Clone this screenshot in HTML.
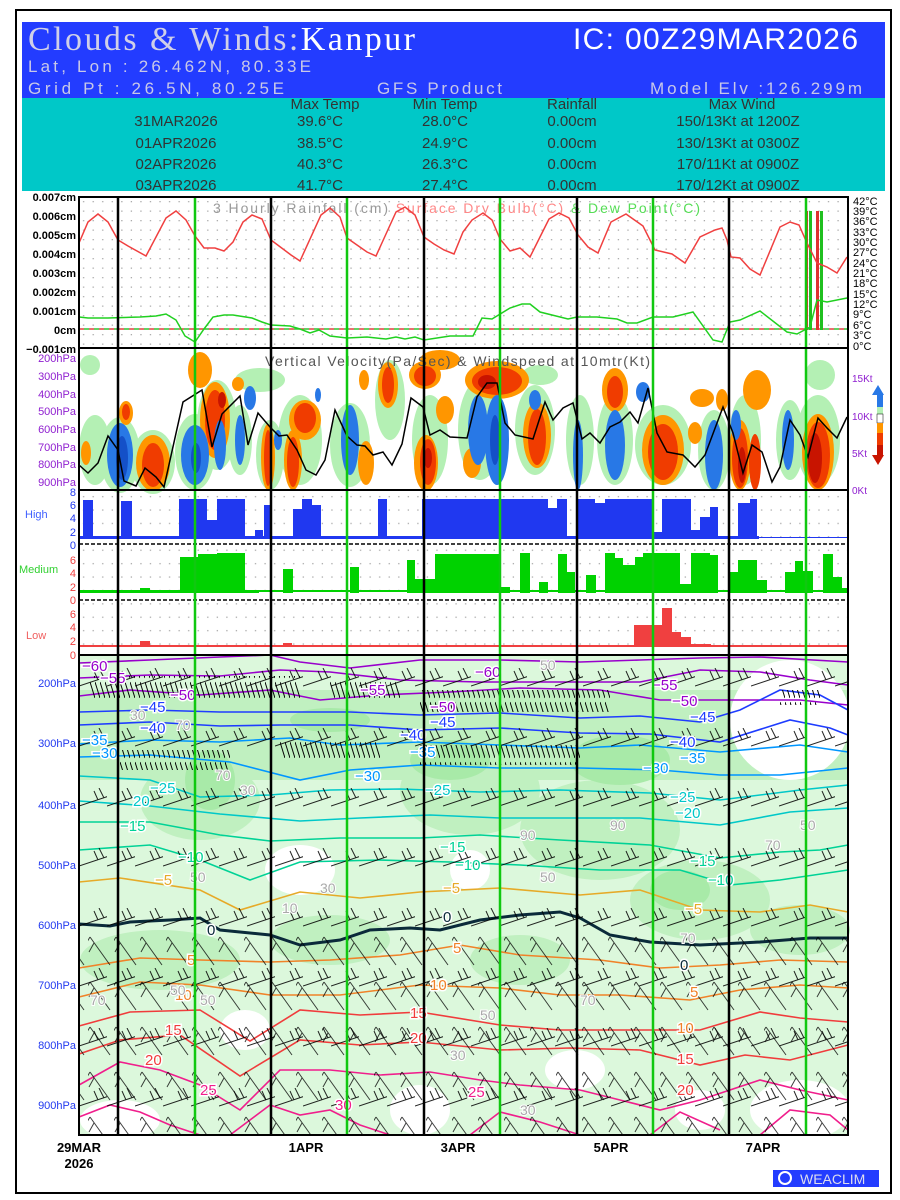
<!DOCTYPE html>
<html><head><meta charset="utf-8"><style>
html,body{margin:0;padding:0;background:#fff}
svg{display:block}
text{font-family:"Liberation Sans",sans-serif}
</style></head><body>
<svg width="900" height="1200" viewBox="0 0 900 1200" xmlns="http://www.w3.org/2000/svg">
<defs>
<pattern id="dots" x="79" y="197" width="9.55" height="9.5" patternUnits="userSpaceOnUse"><rect x="4" y="4" width="1.3" height="1.3" fill="#aaa"/></pattern>
<pattern id="dots2" x="79" y="490" width="9.55" height="13.4" patternUnits="userSpaceOnUse"><rect x="4" y="6" width="1.3" height="1.3" fill="#aaa"/></pattern>
<pattern id="barb1" x="79" y="668" width="28" height="60" patternUnits="userSpaceOnUse"><path d="M0,18 L30,8 M25,10 L20,0 M19,12 L15,3" stroke="#000" stroke-width="1" fill="none"/></pattern>
<pattern id="barb2" x="88" y="935" width="26" height="45" patternUnits="userSpaceOnUse"><path d="M2,2 L22,30 M2,2 L-4,12 M6,8 L1,17" stroke="#000" stroke-width="1" fill="none"/></pattern>
<pattern id="hatch" x="0" y="0" width="5" height="20" patternUnits="userSpaceOnUse"><path d="M0,2 L5,18" stroke="#000" stroke-width="1"/></pattern>
</defs>
<rect x="16" y="10" width="875" height="1183" fill="#fff" stroke="#000" stroke-width="2"/>
<!-- header -->
<rect x="22" y="22" width="863" height="76" fill="#233cff"/>
<rect x="22" y="98" width="863" height="93" fill="#00c8c8"/>
<text x="28" y="50" font-size="34" fill="#d0d0e8" style="font-family:'Liberation Serif',serif" textLength="387">Clouds &amp; Winds:<tspan fill="#fff">Kanpur</tspan></text>
<text x="573" y="49" font-size="30" fill="#fff" textLength="285">IC: 00Z29MAR2026</text>
<text x="28" y="72" font-size="17" fill="#c8c8e8" textLength="283">Lat, Lon : 26.462N, 80.33E</text>
<text x="28" y="94" font-size="17" fill="#c8c8e8" textLength="256">Grid Pt  : 26.5N, 80.25E</text>
<text x="377" y="94" font-size="17" fill="#c8c8e8" textLength="125">GFS Product</text>
<text x="650" y="94" font-size="17" fill="#c8c8e8" textLength="212">Model Elv :126.299m</text>
<g font-size="15" fill="#333" text-anchor="middle">
<text x="325" y="109">Max Temp</text><text x="445" y="109">Min Temp</text><text x="572" y="109">Rainfall</text><text x="742" y="109">Max Wind</text>
<text x="176" y="126">31MAR2026</text><text x="320" y="126">39.6°C</text><text x="445" y="126">28.0°C</text><text x="572" y="126">0.00cm</text><text x="738" y="126">150/13Kt at 1200Z</text>
<text x="176" y="148">01APR2026</text><text x="320" y="148">38.5°C</text><text x="445" y="148">24.9°C</text><text x="572" y="148">0.00cm</text><text x="738" y="148">130/13Kt at 0300Z</text>
<text x="176" y="169">02APR2026</text><text x="320" y="169">40.3°C</text><text x="445" y="169">26.3°C</text><text x="572" y="169">0.00cm</text><text x="738" y="169">170/11Kt at 0900Z</text>
<text x="176" y="190">03APR2026</text><text x="320" y="190">41.7°C</text><text x="445" y="190">27.4°C</text><text x="572" y="190">0.00cm</text><text x="738" y="190">170/12Kt at 0900Z</text>
</g>
<rect x="22" y="191" width="863" height="5" fill="#fff"/>

<!-- top panel -->
<rect x="79" y="197" width="769" height="151" fill="url(#dots)"/>
<text x="213" y="213" font-size="14" fill="#999" textLength="487">3 Hourly Rainfall (cm)  <tspan fill="#f88">Surface Dry Bulb(°C)</tspan>  <tspan fill="#5d5">&amp; Dew Point(°C)</tspan></text>
<line x1="79" y1="329" x2="848" y2="329" stroke="#e04040" stroke-width="1.5" stroke-dasharray="5,5"/>
<line x1="84" y1="329" x2="848" y2="329" stroke="#30c030" stroke-width="1.5" stroke-dasharray="5,5"/>
<rect x="805" y="211" width="3" height="119" fill="#e03030"/><rect x="809" y="211" width="3" height="119" fill="#20c020"/>
<rect x="816" y="211" width="3" height="119" fill="#e03030"/><rect x="820" y="211" width="3" height="119" fill="#20c020"/>
<polyline fill="none" stroke="#f04040" stroke-width="1.5" points="79,243 88,222 98,214 108,222 118,240 128,246 146,256 166,218 176,211 186,220 195,236 204,248 215,248 224,251 233,242 243,222 252,215 262,219 271,240 291,255 300,261 321,215 330,208 340,217 347,238 367,252 376,256 396,212 405,207 415,215 424,237 434,244 444,250 454,254 463,232 472,220 483,213 492,220 500,239 510,251 520,248 530,257 540,237 549,219 559,213 569,218 578,235 588,247 598,253 611,222 626,214 643,226 655,250 672,254 685,263 700,237 715,230 722,228 727,240 731,257 740,258 750,269 760,275 780,227 790,222 799,225 807,243 817,263 827,267 837,273 847,257"/>
<polyline fill="none" stroke="#20d020" stroke-width="1.5" points="79,317 88,318 108,318 140,317 156,316 166,314 176,320 185,336 195,342 204,329 213,317 224,315 233,315 252,318 262,322 271,325 290,326 300,329 310,333 319,330 330,336 347,338 367,337 386,339 396,337 405,339 415,337 424,340 450,336 473,336 482,318 492,319 510,308 522,304 530,304 540,312 568,319 577,317 597,317 617,319 627,323 637,323 653,317 673,317 693,312 713,340 722,342 730,322 740,320 760,311 787,332 797,334 810,327 817,300 827,302 847,298"/>
<g font-size="11" font-weight="bold" text-anchor="end" fill="#000">
<text x="76" y="201">0.007cm</text><text x="76" y="220">0.006cm</text><text x="76" y="239">0.005cm</text><text x="76" y="258">0.004cm</text><text x="76" y="277">0.003cm</text><text x="76" y="296">0.002cm</text><text x="76" y="315">0.001cm</text><text x="76" y="334">0cm</text><text x="76" y="353">−0.001cm</text>
</g>
<g font-size="11" fill="#000">
<text x="853" y="205">42°C</text><text x="853" y="215">39°C</text><text x="853" y="225">36°C</text><text x="853" y="236">33°C</text><text x="853" y="246">30°C</text><text x="853" y="256">27°C</text><text x="853" y="267">24°C</text><text x="853" y="277">21°C</text><text x="853" y="287">18°C</text><text x="853" y="298">15°C</text><text x="853" y="308">12°C</text><text x="853" y="318">9°C</text><text x="853" y="329">6°C</text><text x="853" y="339">3°C</text><text x="853" y="350">0°C</text>
</g>

<!-- VV panel -->
<g fill="#b4f0b4">
<ellipse cx="95" cy="450" rx="16" ry="35"/><ellipse cx="120" cy="455" rx="20" ry="38"/><ellipse cx="153" cy="462" rx="22" ry="32"/><ellipse cx="195" cy="452" rx="20" ry="38"/><ellipse cx="217" cy="425" rx="20" ry="45"/><ellipse cx="240" cy="440" rx="12" ry="35"/><ellipse cx="270" cy="455" rx="14" ry="35"/><ellipse cx="300" cy="440" rx="22" ry="45"/><ellipse cx="350" cy="445" rx="20" ry="42"/><ellipse cx="390" cy="400" rx="15" ry="40"/><ellipse cx="430" cy="440" rx="18" ry="45"/><ellipse cx="480" cy="430" rx="22" ry="50"/><ellipse cx="535" cy="430" rx="20" ry="45"/><ellipse cx="580" cy="440" rx="14" ry="45"/><ellipse cx="615" cy="440" rx="18" ry="45"/><ellipse cx="663" cy="445" rx="28" ry="40"/><ellipse cx="714" cy="450" rx="16" ry="40"/><ellipse cx="745" cy="440" rx="16" ry="45"/><ellipse cx="790" cy="440" rx="14" ry="40"/><ellipse cx="818" cy="440" rx="22" ry="45"/><ellipse cx="260" cy="380" rx="25" ry="12"/><ellipse cx="90" cy="365" rx="10" ry="10"/><ellipse cx="540" cy="375" rx="18" ry="10"/><ellipse cx="820" cy="375" rx="15" ry="15"/>
</g>
<g fill="#ff9600">
<ellipse cx="153" cy="463" rx="17" ry="28"/><ellipse cx="126" cy="413" rx="7" ry="12"/><ellipse cx="86" cy="453" rx="5" ry="12"/><ellipse cx="215" cy="420" rx="15" ry="38"/><ellipse cx="238" cy="384" rx="6" ry="7"/><ellipse cx="268" cy="457" rx="7" ry="33"/><ellipse cx="293" cy="460" rx="9" ry="30"/><ellipse cx="305" cy="420" rx="16" ry="20"/><ellipse cx="364" cy="380" rx="5" ry="10"/><ellipse cx="388" cy="385" rx="10" ry="23"/><ellipse cx="425" cy="375" rx="16" ry="14"/><ellipse cx="366" cy="463" rx="8" ry="22"/><ellipse cx="426" cy="463" rx="12" ry="28"/><ellipse cx="445" cy="410" rx="9" ry="14"/><ellipse cx="497" cy="380" rx="32" ry="19"/><ellipse cx="472" cy="463" rx="9" ry="15"/><ellipse cx="537" cy="435" rx="14" ry="33"/><ellipse cx="615" cy="390" rx="13" ry="22"/><ellipse cx="663" cy="450" rx="21" ry="35"/><ellipse cx="695" cy="433" rx="7" ry="11"/><ellipse cx="702" cy="398" rx="12" ry="9"/><ellipse cx="722" cy="400" rx="6" ry="11"/><ellipse cx="740" cy="455" rx="11" ry="35"/><ellipse cx="757" cy="390" rx="14" ry="20"/><ellipse cx="818" cy="452" rx="16" ry="38"/><ellipse cx="440" cy="360" rx="20" ry="10"/><ellipse cx="200" cy="370" rx="12" ry="18"/>
</g>
<g fill="#f03c00">
<ellipse cx="153" cy="465" rx="11" ry="22"/><ellipse cx="126" cy="412" rx="4" ry="8"/><ellipse cx="215" cy="420" rx="10" ry="30"/><ellipse cx="268" cy="458" rx="4" ry="28"/><ellipse cx="293" cy="462" rx="6" ry="25"/><ellipse cx="305" cy="418" rx="11" ry="15"/><ellipse cx="388" cy="385" rx="6" ry="18"/><ellipse cx="425" cy="376" rx="11" ry="10"/><ellipse cx="428" cy="462" rx="8" ry="23"/><ellipse cx="497" cy="381" rx="25" ry="14"/><ellipse cx="537" cy="437" rx="9" ry="28"/><ellipse cx="615" cy="392" rx="8" ry="16"/><ellipse cx="663" cy="452" rx="15" ry="28"/><ellipse cx="740" cy="458" rx="8" ry="30"/><ellipse cx="755" cy="462" rx="6" ry="28"/><ellipse cx="818" cy="455" rx="12" ry="33"/>
</g>
<g fill="#c81400"><ellipse cx="222" cy="400" rx="4" ry="8"/><ellipse cx="428" cy="458" rx="4" ry="10"/><ellipse cx="487" cy="382" rx="9" ry="7"/><ellipse cx="815" cy="458" rx="7" ry="25"/><ellipse cx="742" cy="465" rx="4" ry="18"/></g>
<g fill="#2878e6">
<ellipse cx="120" cy="455" rx="13" ry="32"/><ellipse cx="195" cy="455" rx="14" ry="30"/><ellipse cx="220" cy="445" rx="6" ry="25"/><ellipse cx="240" cy="440" rx="5" ry="25"/><ellipse cx="250" cy="398" rx="6" ry="12"/><ellipse cx="278" cy="440" rx="4" ry="10"/><ellipse cx="350" cy="440" rx="9" ry="35"/><ellipse cx="478" cy="430" rx="10" ry="35"/><ellipse cx="497" cy="440" rx="12" ry="45"/><ellipse cx="535" cy="400" rx="6" ry="10"/><ellipse cx="578" cy="455" rx="5" ry="35"/><ellipse cx="615" cy="445" rx="10" ry="35"/><ellipse cx="643" cy="392" rx="7" ry="10"/><ellipse cx="714" cy="455" rx="9" ry="35"/><ellipse cx="736" cy="425" rx="5" ry="15"/><ellipse cx="788" cy="440" rx="6" ry="30"/><ellipse cx="318" cy="395" rx="3" ry="7"/>
</g>
<g fill="#1450c8"><ellipse cx="122" cy="458" rx="6" ry="22"/><ellipse cx="196" cy="458" rx="5" ry="15"/><ellipse cx="495" cy="440" rx="5" ry="25"/></g>
<polyline fill="none" stroke="#000" stroke-width="1.5" points="79,465 88,473 98,463 108,436 118,450 124,481 136,486 145,468 156,477 164,487 183,402 202,390 212,447 222,414 240,396 248,445 258,413 270,427 279,436 287,435 297,450 306,470 316,475 325,460 335,410 347,436 357,445 365,446 373,455 383,452 392,465 402,444 411,398 423,407 430,435 440,430 450,437 467,438 477,397 487,383 497,383 505,423 515,435 533,439 545,402 553,420 563,408 573,403 582,439 590,433 600,443 610,427 620,422 630,412 638,423 648,388 657,433 667,452 683,455 695,467 705,455 723,407 733,433 743,473 752,445 762,452 772,482 780,467 790,420 800,435 808,457 818,418 827,428 837,438 847,417"/>
<text x="265" y="366" font-size="14" fill="#555" textLength="385">Vertical Velocity(Pa/Sec) &amp; Windspeed at 10mtr(Kt)</text>
<g font-size="11" fill="#9020d0" text-anchor="end">
<text x="76" y="362">200hPa</text><text x="76" y="380">300hPa</text><text x="76" y="398">400hPa</text><text x="76" y="415">500hPa</text><text x="76" y="433">600hPa</text><text x="76" y="451">700hPa</text><text x="76" y="468">800hPa</text><text x="76" y="486">900hPa</text>
</g>
<g font-size="10" fill="#9020d0"><text x="852" y="382">15Kt</text><text x="852" y="420">10Kt</text><text x="852" y="457">5Kt</text><text x="852" y="494">0Kt</text></g>
<g><path d="M878,385 L884,395 L872,395 Z" fill="#2878e6"/><rect x="877" y="395" width="6" height="12" fill="#2878e6"/><rect x="877" y="407" width="6" height="7" fill="#b4f0b4"/><rect x="877" y="414" width="6" height="9" fill="#fff" stroke="#000" stroke-width="0.5"/><rect x="877" y="423" width="6" height="10" fill="#ff9600"/><rect x="877" y="433" width="6" height="12" fill="#f03c00"/><rect x="877" y="445" width="6" height="10" fill="#c81400"/><path d="M872,455 L884,455 L878,465 Z" fill="#c81400"/></g>

<!-- cloud panels -->
<rect x="79" y="490" width="769" height="165" fill="url(#dots2)"/>
<g fill="#2038f0">
<rect x="79" y="536" width="680" height="3"/><rect x="83" y="500" width="10" height="39"/><rect x="121" y="501" width="11" height="38"/><rect x="179" y="499" width="28" height="40"/><rect x="207" y="520" width="10" height="19"/><rect x="217" y="499" width="28" height="40"/><rect x="255" y="530" width="8" height="9"/><rect x="264" y="505" width="7" height="34"/><rect x="293" y="509" width="9" height="30"/><rect x="302" y="499" width="10" height="40"/><rect x="312" y="505" width="9" height="34"/><rect x="378" y="499" width="9" height="40"/><rect x="422" y="499" width="126" height="40"/><rect x="548" y="508" width="9" height="31"/><rect x="557" y="499" width="10" height="40"/><rect x="577" y="499" width="18" height="40"/><rect x="595" y="503" width="10" height="36"/><rect x="605" y="499" width="47" height="40"/><rect x="652" y="532" width="10" height="7"/><rect x="662" y="499" width="29" height="40"/><rect x="691" y="530" width="9" height="9"/><rect x="700" y="517" width="10" height="22"/><rect x="710" y="507" width="8" height="32"/><rect x="738" y="503" width="12" height="36"/><rect x="750" y="499" width="7" height="40"/><rect x="757" y="537" width="91" height="1"/>
</g>
<g fill="#00d200">
<rect x="79" y="590" width="180" height="3"/><rect x="180" y="557" width="18" height="36"/><rect x="198" y="554" width="19" height="39"/><rect x="217" y="553" width="28" height="40"/><rect x="140" y="588" width="10" height="5"/><rect x="283" y="569" width="10" height="24"/><rect x="350" y="567" width="9" height="26"/><rect x="407" y="560" width="8" height="33"/><rect x="415" y="579" width="20" height="14"/><rect x="435" y="554" width="65" height="39"/><rect x="500" y="587" width="10" height="6"/><rect x="520" y="553" width="10" height="40"/><rect x="539" y="582" width="9" height="11"/><rect x="558" y="554" width="9" height="39"/><rect x="567" y="572" width="8" height="21"/><rect x="586" y="575" width="10" height="18"/><rect x="605" y="553" width="10" height="40"/><rect x="615" y="558" width="8" height="35"/><rect x="623" y="565" width="12" height="28"/><rect x="635" y="557" width="8" height="36"/><rect x="643" y="553" width="37" height="40"/><rect x="680" y="584" width="11" height="9"/><rect x="691" y="553" width="19" height="40"/><rect x="710" y="555" width="8" height="38"/><rect x="730" y="572" width="8" height="21"/><rect x="738" y="560" width="19" height="33"/><rect x="757" y="580" width="10" height="13"/><rect x="785" y="572" width="10" height="21"/><rect x="795" y="561" width="8" height="32"/><rect x="803" y="571" width="10" height="22"/><rect x="823" y="554" width="10" height="39"/><rect x="833" y="577" width="9" height="16"/><rect x="842" y="588" width="6" height="5"/><rect x="245" y="590" width="600" height="2"/>
</g>
<g fill="#f04040">
<rect x="79" y="645" width="769" height="2"/><rect x="140" y="641" width="10" height="6"/><rect x="283" y="643" width="9" height="4"/><rect x="634" y="625" width="9" height="22"/><rect x="643" y="625" width="19" height="22"/><rect x="662" y="608" width="10" height="39"/><rect x="672" y="632" width="9" height="15"/><rect x="681" y="637" width="10" height="10"/><rect x="691" y="644" width="20" height="3"/>
</g>
<line x1="79" y1="544" x2="848" y2="544" stroke="#000" stroke-width="1.5" stroke-dasharray="4,2"/>
<line x1="79" y1="600" x2="848" y2="600" stroke="#000" stroke-width="1.5" stroke-dasharray="4,2"/>
<g font-size="11" text-anchor="end">
<g fill="#2038f0"><text x="76" y="496">8</text><text x="76" y="509">6</text><text x="76" y="522">4</text><text x="76" y="536">2</text><text x="76" y="549">0</text></g>
<g fill="#f04040"><text x="76" y="564">6</text><text x="76" y="577">4</text><text x="76" y="591">2</text><text x="76" y="604">0</text><text x="76" y="618">6</text><text x="76" y="631">4</text><text x="76" y="645">2</text><text x="76" y="659">0</text></g>
</g>
<text x="25" y="518" font-size="11" fill="#4060ff">High</text>
<text x="19" y="573" font-size="11" fill="#30d030">Medium</text>
<text x="26" y="639" font-size="11" fill="#f06060">Low</text>

<!-- main panel -->
<rect x="79" y="655" width="769" height="480" fill="#dcf8dc"/>
<g fill="#c0f0c0">
<rect x="79" y="690" width="769" height="90"/><ellipse cx="200" cy="800" rx="60" ry="40"/><ellipse cx="470" cy="790" rx="70" ry="45"/><ellipse cx="600" cy="830" rx="80" ry="50"/><ellipse cx="700" cy="900" rx="70" ry="40"/><ellipse cx="160" cy="960" rx="80" ry="30"/><ellipse cx="330" cy="940" rx="60" ry="25"/><ellipse cx="800" cy="930" rx="50" ry="25"/><ellipse cx="520" cy="960" rx="50" ry="25"/>
</g>
<g fill="#a8eaa8"><ellipse cx="210" cy="780" rx="25" ry="30"/><ellipse cx="450" cy="760" rx="40" ry="20"/><ellipse cx="620" cy="760" rx="50" ry="25"/><ellipse cx="680" cy="890" rx="30" ry="20"/><ellipse cx="330" cy="720" rx="40" ry="12"/></g>
<g fill="#ffffff">
<ellipse cx="790" cy="720" rx="60" ry="60"/><ellipse cx="300" cy="870" rx="35" ry="25"/><ellipse cx="245" cy="1030" rx="25" ry="20"/><ellipse cx="120" cy="1120" rx="40" ry="20"/><ellipse cx="420" cy="1110" rx="30" ry="25"/><ellipse cx="800" cy="1110" rx="50" ry="30"/><ellipse cx="575" cy="1070" rx="30" ry="20"/><ellipse cx="700" cy="1110" rx="25" ry="20"/><ellipse cx="470" cy="870" rx="20" ry="20"/>
</g>
<g fill="none" stroke-width="1.6">
<path stroke="#9900cc" d="M79,663 L150,660 L220,657 L270,655 L300,662 L350,668 L420,660 L500,660 L580,662 L640,660 L700,658 L760,657 L848,662"/>
<path stroke="#9900cc" d="M79,678 L150,675 L220,676 L280,670 L330,672 L400,680 L480,682 L560,682 L640,682 L700,670 L760,672 L810,680 L848,685"/>
<path stroke="#9900cc" d="M79,696 L130,690 L200,695 L270,690 L320,700 L380,695 L450,692 L520,688 L600,690 L660,700 L720,700 L800,700 L848,705"/>
<path stroke="#1e3cff" d="M79,712 L150,710 L220,712 L280,712 L350,712 L420,715 L500,713 L580,718 L640,716 L700,722 L740,710 L780,690 L820,695 L848,710"/>
<path stroke="#1e3cff" d="M79,725 L150,722 L220,726 L280,725 L350,725 L420,730 L500,728 L580,733 L650,734 L720,742 L790,720 L830,728 L848,735"/>
<path stroke="#0096ff" d="M79,744 L150,740 L220,742 L290,738 L340,745 L420,742 L500,745 L580,748 L640,745 L720,752 L800,745 L848,752"/>
<path stroke="#0096ff" d="M79,757 L150,755 L230,762 L300,780 L350,770 L420,765 L500,768 L580,768 L660,770 L720,775 L780,775 L848,768"/>
<path stroke="#00c8c8" d="M79,776 L150,780 L200,797 L270,795 L330,790 L400,789 L480,792 L560,790 L650,793 L720,800 L800,790 L848,785"/>
<path stroke="#00c8c8" d="M79,801 L150,806 L220,814 L300,821 L360,818 L430,815 L500,818 L580,818 L640,818 L720,825 L790,812 L848,808"/>
<path stroke="#00d296" d="M79,822 L150,822 L220,835 L270,841 L340,838 L420,838 L480,835 L560,840 L650,845 L720,858 L780,852 L820,850 L848,845"/>
<path stroke="#00d296" d="M79,850 L150,845 L200,860 L250,880 L300,862 L380,860 L450,862 L520,865 L600,870 L680,870 L730,885 L780,880 L848,870"/>
<path stroke="#e6aa28" d="M79,882 L120,878 L200,890 L240,910 L300,892 L360,898 L420,892 L500,888 L580,895 L640,890 L700,910 L760,912 L810,905 L848,912"/>
<path stroke="#0a2a3a" stroke-width="3" d="M79,924 L110,926 L130,922 L170,920 L200,918 L220,930 L270,935 L300,945 L340,940 L370,930 L410,928 L440,930 L480,920 L520,915 L560,912 L580,918 L610,935 L650,942 L700,945 L760,942 L810,938 L848,938"/>
<path stroke="#f08228" d="M79,968 L140,958 L200,960 L270,962 L330,960 L400,955 L460,945 L520,955 L600,960 L660,968 L720,965 L780,960 L848,962"/>
<path stroke="#f08228" d="M79,997 L140,982 L200,985 L270,995 L340,995 L420,985 L500,988 L560,995 L620,995 L690,1000 L740,990 L800,985 L848,988"/>
<path stroke="#f03c3c" d="M79,1026 L130,1012 L200,1010 L250,1041 L300,1010 L360,1015 L420,1012 L500,1025 L560,1030 L620,1030 L700,1030 L760,1012 L800,1018 L848,1022"/>
<path stroke="#f03c3c" d="M79,1054 L120,1040 L180,1035 L240,1076 L300,1040 L360,1045 L420,1042 L500,1050 L570,1048 L640,1050 L700,1065 L745,1055 L790,1060 L848,1045"/>
<path stroke="#f01e8c" d="M79,1085 L120,1062 L160,1070 L200,1085 L240,1110 L280,1070 L330,1070 L380,1075 L430,1072 L480,1080 L520,1085 L580,1090 L620,1100 L660,1110 L700,1100 L760,1080 L800,1090 L848,1100"/>
<path stroke="#f01e8c" d="M79,1117 L110,1105 L140,1112 L170,1125 L200,1135 M230,1135 L270,1105 L300,1115 L330,1110 L360,1125 L390,1135 M470,1135 L500,1112 L540,1122 L580,1135 M650,1135 L680,1112 L720,1130 M760,1135 L790,1110 L830,1115 L848,1130"/>
</g>
<rect x="90" y="676" width="210" height="22" fill="url(#hatch)"/>
<rect x="330" y="680" width="70" height="18" fill="url(#hatch)"/>
<rect x="420" y="690" width="190" height="22" fill="url(#hatch)"/>
<rect x="120" y="750" width="110" height="20" fill="url(#hatch)"/>
<rect x="280" y="740" width="100" height="18" fill="url(#hatch)"/>
<rect x="420" y="745" width="160" height="20" fill="url(#hatch)"/>
<rect x="780" y="690" width="40" height="15" fill="url(#hatch)"/>
<rect x="79" y="660" width="769" height="475" fill="url(#barb1)" opacity="0.85"/>
<rect x="79" y="935" width="769" height="200" fill="url(#barb2)" opacity="0.75"/>
<g font-size="15" stroke="#fff" stroke-width="3" paint-order="stroke">
<text x="82" y="671" fill="#9900cc">−60</text><text x="100" y="683" fill="#9900cc">−55</text><text x="170" y="700" fill="#9900cc">−50</text><text x="140" y="712" fill="#1e3cff">−45</text><text x="140" y="733" fill="#1e3cff">−40</text><text x="82" y="745" fill="#0096ff">−35</text><text x="92" y="758" fill="#0096ff">−30</text><text x="150" y="793" fill="#00c8c8">−25</text><text x="133" y="806" fill="#00c8c8">20</text><text x="120" y="831" fill="#00d296">−15</text><text x="178" y="862" fill="#00d296">−10</text><text x="155" y="885" fill="#e6aa28">−5</text><text x="207" y="935" fill="#0a2a3a">0</text><text x="187" y="965" fill="#f08228">5</text><text x="175" y="1000" fill="#f08228">10</text><text x="165" y="1035" fill="#f03c3c">15</text><text x="145" y="1065" fill="#f03c3c">20</text><text x="200" y="1095" fill="#f01e8c">25</text><text x="335" y="1110" fill="#f01e8c">30</text>
<text x="360" y="695" fill="#9900cc">−55</text><text x="475" y="677" fill="#9900cc">−60</text><text x="430" y="712" fill="#9900cc">−50</text><text x="430" y="727" fill="#1e3cff">−45</text><text x="400" y="740" fill="#1e3cff">−40</text><text x="410" y="757" fill="#0096ff">−35</text><text x="355" y="781" fill="#0096ff">−30</text><text x="425" y="795" fill="#00c8c8">−25</text><text x="440" y="852" fill="#00d296">−15</text><text x="455" y="870" fill="#00d296">−10</text><text x="443" y="893" fill="#e6aa28">−5</text><text x="443" y="922" fill="#0a2a3a">0</text><text x="453" y="953" fill="#f08228">5</text><text x="430" y="990" fill="#f08228">10</text><text x="410" y="1018" fill="#f03c3c">15</text><text x="410" y="1043" fill="#f03c3c">20</text><text x="468" y="1097" fill="#f01e8c">25</text>
<text x="652" y="690" fill="#9900cc">−55</text><text x="672" y="706" fill="#9900cc">−50</text><text x="690" y="722" fill="#1e3cff">−45</text><text x="670" y="747" fill="#1e3cff">−40</text><text x="680" y="763" fill="#0096ff">−35</text><text x="643" y="773" fill="#0096ff">−30</text><text x="670" y="802" fill="#00c8c8">−25</text><text x="675" y="818" fill="#00c8c8">−20</text><text x="690" y="866" fill="#00d296">−15</text><text x="708" y="885" fill="#00d296">−10</text><text x="685" y="914" fill="#e6aa28">−5</text><text x="680" y="970" fill="#0a2a3a">0</text><text x="690" y="997" fill="#f08228">5</text><text x="677" y="1033" fill="#f08228">10</text><text x="677" y="1064" fill="#f03c3c">15</text><text x="677" y="1095" fill="#f03c3c">20</text>
</g>
<g font-size="14" fill="#aaa" stroke="#fff" stroke-width="2" paint-order="stroke">
<text x="130" y="720">30</text><text x="175" y="730">70</text><text x="215" y="780">70</text><text x="190" y="882">50</text><text x="240" y="795">30</text><text x="320" y="893">30</text><text x="282" y="913">10</text><text x="170" y="995">50</text><text x="200" y="1005">50</text><text x="90" y="1005">70</text><text x="540" y="670">50</text><text x="520" y="840">90</text><text x="540" y="882">50</text><text x="610" y="830">90</text><text x="680" y="943">70</text><text x="580" y="1005">70</text><text x="520" y="1115">30</text><text x="800" y="830">50</text><text x="765" y="850">70</text><text x="450" y="1060">30</text><text x="480" y="1020">50</text>
</g>
<!-- grid lines -->
<g stroke="#000" stroke-width="2.5">
<line x1="118" y1="197" x2="118" y2="1135"/><line x1="271" y1="197" x2="271" y2="1135"/><line x1="424" y1="197" x2="424" y2="1135"/><line x1="577" y1="197" x2="577" y2="1135"/><line x1="729" y1="197" x2="729" y2="1135"/>
</g>
<g stroke="#10c810" stroke-width="2.5">
<line x1="195" y1="197" x2="195" y2="1135"/><line x1="347" y1="197" x2="347" y2="1135"/><line x1="500" y1="197" x2="500" y2="1135"/><line x1="653" y1="197" x2="653" y2="1135"/><line x1="806" y1="197" x2="806" y2="1135"/>
</g>
<g fill="none" stroke="#000" stroke-width="2">
<rect x="79" y="197" width="769" height="938"/>
<line x1="79" y1="348" x2="848" y2="348"/><line x1="79" y1="490" x2="848" y2="490"/><line x1="79" y1="655" x2="848" y2="655"/>
</g>
<g font-size="11" fill="#2038f0" text-anchor="end">
<text x="76" y="687">200hPa</text><text x="76" y="747">300hPa</text><text x="76" y="809">400hPa</text><text x="76" y="869">500hPa</text><text x="76" y="929">600hPa</text><text x="76" y="989">700hPa</text><text x="76" y="1049">800hPa</text><text x="76" y="1109">900hPa</text>
</g>
<g font-size="13" font-weight="bold" fill="#000" text-anchor="middle">
<text x="79" y="1152">29MAR</text><text x="79" y="1168">2026</text><text x="306" y="1152">1APR</text><text x="458" y="1152">3APR</text><text x="611" y="1152">5APR</text><text x="763" y="1152">7APR</text>
</g>
<rect x="773" y="1170" width="106" height="17" fill="#233cff"/>
<circle cx="785" cy="1178" r="6" fill="none" stroke="#fff" stroke-width="2"/>
<text x="800" y="1184" font-size="14" fill="#dde">WEACLIM</text>
</svg>
</body></html>
